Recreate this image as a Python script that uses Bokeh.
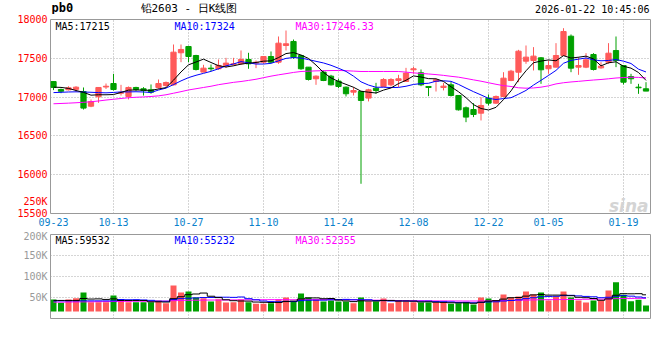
from bokeh.plotting import figure
from bokeh.layouts import column
from bokeh.models import Range1d, FixedTicker, Label, ColumnDataSource
from bokeh.embed import file_html
from bokeh.resources import INLINE

# ---------------- data ----------------
opens = [17200, 17098, 17094, 17100, 17072, 16883, 17004, 17130, 17175, 17050,
         17008, 17124, 17107, 17094, 17124, 17150, 17158, 17571, 17652, 17536,
         17322, 17373, 17365, 17408, 17416, 17429, 17485, 17438, 17450, 17523,
         17450, 17665, 17717, 17536, 17386, 17236, 17322, 17270, 17206, 17128,
         17064, 17072, 16987, 17115, 17137, 17158, 17214, 17201, 17352, 17313,
         17137, 17201, 17124, 17158, 17021, 16862, 16840, 16793, 16986, 16922,
         17008, 17214, 17321, 17463, 17472, 17506, 17365, 17386, 17536, 17785,
         17386, 17386, 17549, 17377, 17450, 17600, 17407, 17265, 17128, 17107]
highs = [17205, 17110, 17140, 17140, 17124, 16970, 17130, 17175, 17300, 17158,
         17137, 17133, 17128, 17163, 17227, 17201, 17678, 17678, 17660, 17545,
         17416, 17420, 17485, 17506, 17506, 17601, 17571, 17472, 17523, 17588,
         17781, 17858, 17742, 17545, 17386, 17279, 17343, 17287, 17236, 17137,
         17128, 17075, 17107, 17184, 17244, 17244, 17287, 17377, 17390, 17356,
         17137, 17236, 17184, 17193, 17021, 16879, 16922, 16999, 17034, 17021,
         17321, 17351, 17609, 17665, 17644, 17515, 17472, 17695, 17888, 17807,
         17515, 17566, 17566, 17450, 17695, 17781, 17407, 17300, 17171, 17192]
lows = [17090, 17050, 17085, 17065, 16840, 16870, 16926, 17105, 17085, 17020,
        16970, 17080, 17020, 17043, 17107, 17133, 17150, 17450, 17450, 17343,
        17320, 17335, 17352, 17377, 17408, 17416, 17365, 17373, 17429, 17438,
        17429, 17601, 17493, 17352, 17214, 17158, 17206, 17150, 17115, 17008,
        17021, 15883, 16944, 17043, 17128, 17137, 17128, 17201, 17300, 17141,
        17012, 17072, 17086, 17008, 16827, 16677, 16742, 16699, 16892, 16913,
        16999, 17205, 17192, 17429, 17343, 17171, 17300, 17386, 17536, 17321,
        17287, 17373, 17343, 17365, 17429, 17386, 17162, 17171, 17042, 17077]
closes = [17125, 17075, 17120, 17128, 16858, 16943, 17124, 17140, 17098, 17060,
          17124, 17098, 17085, 17064, 17175, 17188, 17579, 17614, 17523, 17356,
          17373, 17365, 17408, 17438, 17429, 17485, 17429, 17450, 17523, 17450,
          17695, 17687, 17515, 17365, 17227, 17270, 17214, 17158, 17137, 17043,
          17085, 16957, 17094, 17085, 17227, 17227, 17236, 17309, 17365, 17158,
          17124, 17223, 17141, 17021, 16836, 16742, 16776, 16892, 16922, 17008,
          17244, 17334, 17592, 17515, 17528, 17352, 17407, 17536, 17845, 17373,
          17407, 17480, 17356, 17399, 17566, 17472, 17192, 17236, 17120, 17077]
ma5 = [17128, 17125, 17112, 17085, 17061, 17025, 17030, 17030, 17033, 17060,
       17090, 17092, 17090, 17086, 17105, 17122, 17218, 17324, 17416, 17452,
       17489, 17446, 17405, 17388, 17403, 17425, 17438, 17446, 17463, 17467,
       17509, 17561, 17574, 17542, 17498, 17413, 17318, 17247, 17201, 17164,
       17127, 17076, 17063, 17053, 17090, 17118, 17174, 17217, 17273, 17259,
       17238, 17236, 17202, 17133, 17069, 16993, 16903, 16853, 16834, 16868,
       16968, 17080, 17220, 17339, 17443, 17464, 17479, 17468, 17534, 17503,
       17514, 17528, 17492, 17403, 17442, 17455, 17397, 17373, 17317, 17215]
ma10 = [17058, 17062, 17066, 17068, 17066, 17062, 17058, 17055, 17060, 17067,
        17067, 17069, 17066, 17059, 17091, 17116, 17161, 17209, 17251, 17281,
        17306, 17332, 17365, 17402, 17427, 17457, 17442, 17426, 17426, 17435,
        17467, 17499, 17510, 17503, 17483, 17461, 17440, 17410, 17372, 17331,
        17270, 17197, 17155, 17127, 17127, 17123, 17125, 17140, 17163, 17174,
        17178, 17205, 17210, 17203, 17164, 17116, 17070, 17028, 16984, 16969,
        16981, 16992, 17037, 17086, 17155, 17216, 17279, 17344, 17436, 17473,
        17489, 17504, 17480, 17468, 17472, 17484, 17463, 17433, 17360, 17324]
ma30 = [16914, 16918, 16922, 16927, 16933, 16940, 16950, 16962, 16972, 16982,
        16992, 16998, 17002, 17008, 17016, 17030, 17050, 17070, 17092, 17108,
        17124, 17140, 17160, 17175, 17190, 17201, 17215, 17230, 17250, 17270,
        17287, 17302, 17318, 17330, 17334, 17338, 17340, 17342, 17343, 17340,
        17335, 17330, 17330, 17330, 17330, 17330, 17330, 17322, 17312, 17305,
        17298, 17290, 17280, 17268, 17257, 17240, 17222, 17205, 17185, 17165,
        17148, 17137, 17120, 17115, 17118, 17128, 17145, 17170, 17185, 17195,
        17203, 17212, 17220, 17227, 17236, 17246, 17252, 17256, 17254, 17246]
volumes = [45200, 37300, 45200, 48400, 61900, 38900, 38900, 38900, 54800, 42900,
           38900, 38900, 38900, 38900, 42900, 36500, 78600, 61900, 64300, 50000,
           48400, 40500, 46000, 38100, 38900, 45200, 38900, 34900, 34900, 36500,
           45200, 50000, 40500, 59500, 50000, 45200, 40500, 42900, 40500, 40500,
           36500, 50000, 40500, 40500, 47600, 36500, 42900, 40500, 38900, 38100,
           38100, 38100, 38100, 34900, 36500, 38900, 33300, 50000, 47600, 42900,
           57100, 50000, 52400, 64300, 57100, 61900, 42900, 52400, 64300, 50000,
           42900, 38100, 42900, 42900, 66700, 86500, 56400, 41300, 44400, 31000]
vma5 = [43000, 43000, 43000, 43000, 47600, 46300, 46700, 45400, 46700, 42900,
        42900, 42900, 42900, 39700, 39700, 39200, 47200, 51800, 56800, 58300,
        60600, 53000, 49800, 44600, 42400, 41700, 41400, 39200, 38600, 38100,
        38100, 40300, 41400, 46300, 49000, 49000, 47100, 47600, 43800, 41900,
        40200, 42100, 41600, 41600, 43000, 43000, 41600, 41600, 41300, 39400,
        39700, 38700, 38300, 37500, 37100, 37300, 36300, 38700, 41300, 42500,
        46200, 49500, 50000, 53300, 56200, 57100, 55700, 55700, 55700, 54300,
        50500, 49500, 47600, 43400, 46700, 55400, 59100, 58800, 59100, 56400]
vma10 = [42000, 42000, 42000, 42000, 42000, 42000, 42000, 42000, 42000, 45200,
         44600, 44800, 44100, 43200, 41300, 41100, 45000, 47300, 48300, 49000,
         49900, 50100, 50800, 50700, 50300, 51200, 47200, 44500, 41600, 40200,
         39900, 40900, 40300, 42500, 43600, 43600, 43700, 44500, 45100, 45500,
         44600, 44600, 44600, 42700, 42500, 41600, 41800, 41600, 41400, 41200,
         41400, 40200, 39900, 39400, 38300, 38500, 37500, 38500, 39400, 39800,
         41700, 42900, 44400, 47300, 49400, 51700, 52600, 52900, 54500, 55200,
         53800, 52600, 51700, 49500, 50500, 53000, 54300, 53200, 51200, 49300]
vma30 = [39000, 39000, 39200, 39400, 39600, 39800, 40000, 40200, 40400, 40600,
         40800, 41000, 41000, 41000, 41200, 41400, 42500, 43000, 43400, 43600,
         43800, 44000, 44000, 44000, 44200, 44400, 44500, 44600, 44700, 44800,
         44800, 44800, 44600, 44800, 44900, 45000, 44900, 44900, 44800, 44900,
         44500, 44200, 43800, 43500, 43300, 43000, 42800, 42600, 42400, 42300,
         42200, 42000, 41900, 41800, 41700, 41600, 41600, 41800, 42000, 42200,
         42600, 43000, 43400, 43800, 44200, 44600, 44800, 45000, 45200, 45400,
         45600, 45800, 46000, 46200, 46600, 47200, 47600, 47800, 48000, 48100]
date_tick_idx = [0, 8, 18, 28, 38, 48, 58, 66, 76]
date_tick_labels = ["09-23", "10-13", "10-27", "11-10", "11-24",
                    "12-08", "12-22", "01-05", "01-19"]
price_ticks = [15500, 16000, 16500, 17000, 17500, 18000]
stray_tick = 15661          # where the leftover "250K" label sits in the reference
stray_label = "250K"
vol_ticks = [50000, 100000, 150000, 200000]
vol_tick_labels = ["50K", "100K", "150K", "200K"]

# ---------------- styling ----------------
UP = "#ff5a5a"
DOWN = "#00a000"
MONO = "DejaVu Sans Mono"
GRID = "#aaaaaa"
VOL_BASE = 16700

n = len(closes)
xs = list(range(n))
colors = [UP if c >= o else DOWN for o, c in zip(opens, closes)]
src = ColumnDataSource(dict(
    x=xs, o=opens, h=highs, l=lows, c=closes,
    top=[max(o, c) for o, c in zip(opens, closes)],
    bot=[min(o, c) for o, c in zip(opens, closes)],
    color=colors, vol=volumes,
    ma5=ma5, ma10=ma10, ma30=ma30, vma5=vma5, vma10=vma10, vma30=vma30))

xr = Range1d(-0.4, n - 0.4)


def style(p):
    p.background_fill_color = "white"
    p.border_fill_color = "white"
    p.outline_line_color = "#999999"
    p.outline_line_width = 1
    for g in (p.xgrid, p.ygrid):
        g.grid_line_color = GRID
        g.grid_line_dash = "1 2"
        g.grid_line_width = 1
    for ax in p.yaxis:
        ax.axis_line_color = None
        ax.major_tick_line_color = None
        ax.minor_tick_line_color = None
        ax.major_tick_out = 0
        ax.major_tick_in = 0
        ax.major_label_standoff = 3
        ax.major_label_text_font = MONO
        ax.major_label_text_font_size = "10px"
    p.xgrid.ticker = FixedTicker(ticks=date_tick_idx[1:])


def lab(p, x, y, text, color="#000000", size="10px", font=MONO, align="left",
        baseline="top", style_="normal", units="screen"):
    p.add_layout(Label(x=x, y=y, x_units=units, y_units=units, text=text,
                       text_color=color, text_font=font, text_font_size=size,
                       text_align=align, text_baseline=baseline,
                       text_font_style=style_))


# ---------------- header strip (frame spans page x 50..650) ----------------
p0 = figure(width=660, height=14, x_range=Range1d(50, 650), y_range=Range1d(14, 0),
            title=None, x_axis_location=None, y_axis_location=None,
            output_backend="svg", toolbar_location=None, min_border=0,
            min_border_left=50, min_border_right=10)
p0.outline_line_color = None
p0.background_fill_color = "white"
p0.border_fill_color = "white"
p0.xgrid.grid_line_color = None
p0.ygrid.grid_line_color = None
lab(p0, 51, 14, "pb0", "#000000", size="12px", baseline="bottom",
    style_="bold", units="data")
lab(p0, 140, 14, "铅2603 - 日K线图", "#000000", size="11px",
    baseline="bottom", units="data")
lab(p0, 649, 14, "2026-01-22 10:45:06", "#000000", align="right",
    baseline="bottom", units="data")

# ---------------- price panel ----------------
p1 = figure(width=660, height=216, x_range=xr, y_range=Range1d(15500, 18000),
            title=None, x_axis_location="below", output_backend="svg",
            toolbar_location=None, min_border_left=50, min_border_right=10,
            min_border_top=5, min_border_bottom=17)
style(p1)
p1.yaxis.ticker = FixedTicker(ticks=price_ticks + [stray_tick])
p1.yaxis.major_label_overrides = {stray_tick: stray_label}
p1.yaxis.major_label_text_color = "#ff0000"
p1.ygrid.ticker = FixedTicker(ticks=price_ticks)

xa = p1.xaxis[0]
xa.ticker = FixedTicker(ticks=date_tick_idx)
xa.major_label_overrides = {t: s for t, s in zip(date_tick_idx, date_tick_labels)}
xa.axis_line_color = None
xa.major_tick_line_color = None
xa.minor_tick_line_color = None
xa.major_tick_out = 0
xa.major_tick_in = 0
xa.major_label_standoff = 4
xa.major_label_text_font = MONO
xa.major_label_text_font_size = "10px"
xa.major_label_text_color = "#0a7fcb"

p1.segment(x0="x", y0="l", x1="x", y1="h", source=src, line_color="color", line_width=1)
p1.vbar(x="x", width=0.7, top="top", bottom="bot", source=src,
        fill_color="color", line_color="color", line_width=1)
p1.line(x="x", y="ma30", source=src, line_color="#ff00ff", line_width=1)
p1.line(x="x", y="ma10", source=src, line_color="#0000ff", line_width=1)
p1.line(x="x", y="ma5", source=src, line_color="#000000", line_width=1)

lab(p1, 5, 193, "MA5:17215", "#000000")
lab(p1, 124, 193, "MA10:17324", "#0000ff")
lab(p1, 245, 193, "MA30:17246.33", "#ff00ff")
lab(p1, 598, 8, "sina", "#d4d4d4", size="17px", font="DejaVu Sans", align="right",
    baseline="alphabetic", style_="bold italic")

# ---------------- volume panel ----------------
p2 = figure(width=660, height=100, x_range=xr, y_range=Range1d(0, 200000),
            title=None, x_axis_location=None, output_backend="svg",
            toolbar_location=None, min_border_left=50, min_border_right=10,
            min_border_top=4, min_border_bottom=12)
style(p2)
p2.yaxis.ticker = FixedTicker(ticks=vol_ticks)
p2.yaxis.major_label_overrides = {t: s for t, s in zip(vol_ticks, vol_tick_labels)}
p2.yaxis.major_label_text_color = "#999999"
p2.ygrid.ticker = FixedTicker(ticks=vol_ticks[:-1])

p2.vbar(x="x", width=0.8, top="vol", bottom=VOL_BASE, source=src,
        fill_color="color", line_color=None)
p2.step(x="x", y="vma30", source=src, mode="center", line_color="#ff00ff", line_width=1)
p2.step(x="x", y="vma10", source=src, mode="center", line_color="#0000ff", line_width=1)
p2.step(x="x", y="vma5", source=src, mode="center", line_color="#000000", line_width=1)

lab(p2, 5, 84, "MA5:59532", "#000000")
lab(p2, 124, 84, "MA10:55232", "#0000ff")
lab(p2, 245, 84, "MA30:52355", "#ff00ff")
lab(p2, 0, -1, "Copyright 2026 SINA.COM", "#666666")
lab(p2, 599, -1, "http://finance.sina.com.cn", "#666666", align="right")

layout = column(p0, p1, p2, spacing=0)
open("out.html", "w").write(file_html(layout, INLINE, title="pb0"))
